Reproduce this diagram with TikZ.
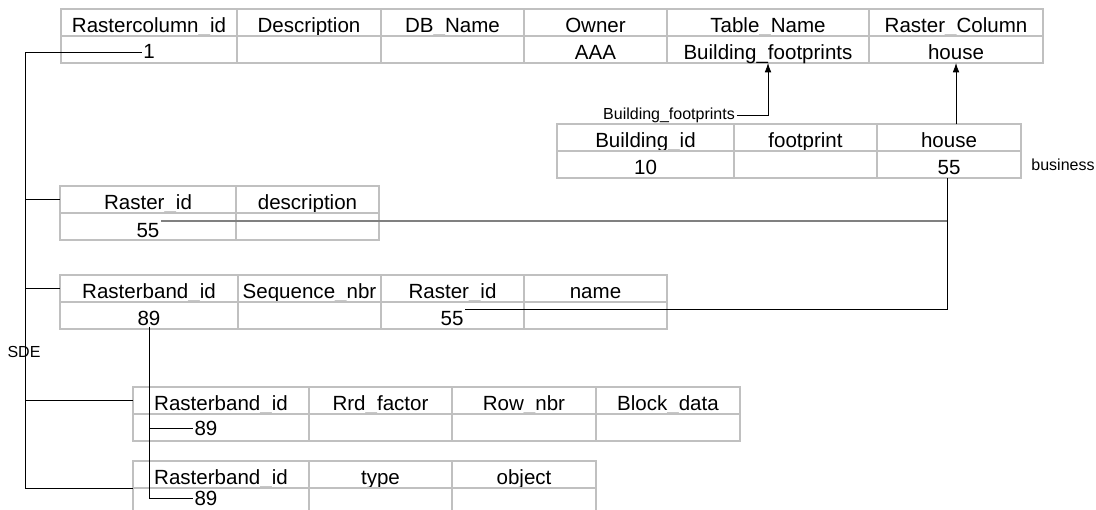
\documentclass[tikz,border=0pt]{standalone}
\usepackage{fontspec}
\setmainfont{Liberation Sans}
\usepackage{tikz}
\usetikzlibrary{arrows.meta}
\definecolor{cellgray}{RGB}{192,192,192}

\begin{document}
\begin{tikzpicture}
[x=0.75pt,y=-0.75pt,line width=0.6pt,
 cell/.style={rectangle,draw=cellgray,line width=1.5pt,anchor=north west,outer sep=0pt,minimum height=20.25pt,inner sep=0pt,text height=15.6pt,text depth=0pt,font=\fontsize{15.4}{18}\selectfont},
 val/.style={anchor=base,inner sep=1pt,font=\fontsize{15.4}{18}\selectfont},
 lbl/.style={inner sep=1pt,font=\fontsize{12}{14}\selectfont}]
\useasboundingbox (0,0) rectangle (1096,510);
% raster columns
\node[cell,minimum width=132pt] (t1) at (61,9){Rastercolumn\_id};
\node[cell,minimum width=108pt] (t2) at (237,9){Description};
\node[cell,minimum width=107.25pt] (t3) at (381,9){DB\_Name};
\node[cell,minimum width=107.25pt] (t4) at (524,9){Owner};
\node[cell,minimum width=151.5pt] (t5) at (667,9){Table\_Name};
\node[cell,minimum width=130.5pt] (t6) at (869,9){Raster\_Column};
\node[cell,minimum width=132pt] (td1) at (61,36){};
\node[cell,minimum width=108pt] (td2) at (237,36){};
\node[cell,minimum width=107.25pt] (td3) at (381,36){};
\node[cell,minimum width=107.25pt] (td4) at (524,36){AAA};
\node[cell,minimum width=151.5pt] (td5) at (667,36){Building\_footprints};
\node[cell,minimum width=130.5pt] (td6) at (869,36){house};
\node[val] (v1) at (149,59){1};
% business table
\node[cell,minimum width=132.75pt] (b1) at (557,124){Building\_id};
\node[cell,minimum width=107.25pt] (b2) at (734,124){footprint};
\node[cell,minimum width=108pt] (b3) at (877,124){house};
\node[cell,minimum width=132.75pt] (bd1) at (557,151){10};
\node[cell,minimum width=107.25pt] (bd2) at (734,151){};
\node[cell,minimum width=108pt] (bd3) at (877,151){55};
% raster
\node[cell,minimum width=132pt] (r1) at (60,186){Raster\_id};
\node[cell,minimum width=107.25pt] (r2) at (236,186){description};
\node[cell,minimum width=132pt] (rd1) at (60,213){};
\node[cell,minimum width=107.25pt] (rd2) at (236,213){};
\node[val] (rv55) at (148,237){55};
% raster band
\node[cell,minimum width=133.5pt] (rb1) at (60,275){Rasterband\_id};
\node[cell,minimum width=107.25pt] (rb2) at (238,275){Sequence\_nbr};
\node[cell,minimum width=107.25pt] (rb3) at (381,275){Raster\_id};
\node[cell,minimum width=107.25pt] (rb4) at (524,275){name};
\node[cell,minimum width=133.5pt] (rbd1) at (60,302){};
\node[cell,minimum width=107.25pt] (rbd2) at (238,302){};
\node[cell,minimum width=107.25pt] (rbd3) at (381,302){};
\node[cell,minimum width=107.25pt] (rbd4) at (524,302){};
\node[val] (rbv89) at (149,325){89};
\node[val] (rbv55) at (452,325){55};
% raster blocks
\node[cell,minimum width=132pt] (rr1) at (133,387){Rasterband\_id};
\node[cell,minimum width=107.25pt] (rr2) at (309,387){Rrd\_factor};
\node[cell,minimum width=108pt] (rr3) at (452,387){Row\_nbr};
\node[cell,minimum width=108pt] (rr4) at (596,387){Block\_data};
\node[cell,minimum width=132pt] (rrd1) at (133,414){};
\node[cell,minimum width=107.25pt] (rrd2) at (309,414){};
\node[cell,minimum width=108pt] (rrd3) at (452,414){};
\node[cell,minimum width=108pt] (rrd4) at (596,414){};
\node[val] (rrv89) at (206,435){89};
% raster aux
\node[cell,minimum width=132pt] (k1) at (133,461){Rasterband\_id};
\node[cell,minimum width=107.25pt] (k2) at (309,461){type};
\node[cell,minimum width=108pt] (k3) at (452,461){object};
\node[cell,minimum width=132pt] (kd1) at (133,488){};
\node[cell,minimum width=107.25pt] (kd2) at (309,488){};
\node[cell,minimum width=108pt] (kd3) at (452,488){};
\node[val] (kv89) at (206,505){89};
% labels
\node[lbl] (bfl) at (669,115){Building\_footprints};
\node[lbl] (bus) at (1063,165){business};
\node[lbl] (sdel) at (24,352){SDE};
\coordinate (sde) at (25,488);
\coordinate (bj) at (947,311);
% SDE owner links
\draw (v1.west) -| (sde) -- (sde -| k1.west);
\draw (sde |- r1.west) -- (r1.west);
\draw (sde |- rb1.west) -- (rb1.west);
\draw (sde |- rr1.west) -- (rr1.west);
% foreign keys
\draw[-{Latex[length=7pt,width=5pt]}] (bfl.east) -| (td5.south);
\draw[-{Latex[length=7pt,width=5pt]}] (td6.south |- b3.north) -- (td6.south);
\draw[gray,line width=1.2pt] (rv55.north east) -- (rv55.north east -| bj);
\draw (rbv55.north east) -| (bd3.south -| bj);
\draw (rbv89.south) |- (rrv89.west);
\draw (rbv89.south) |- (kv89.west);
\end{tikzpicture}
\end{document}
